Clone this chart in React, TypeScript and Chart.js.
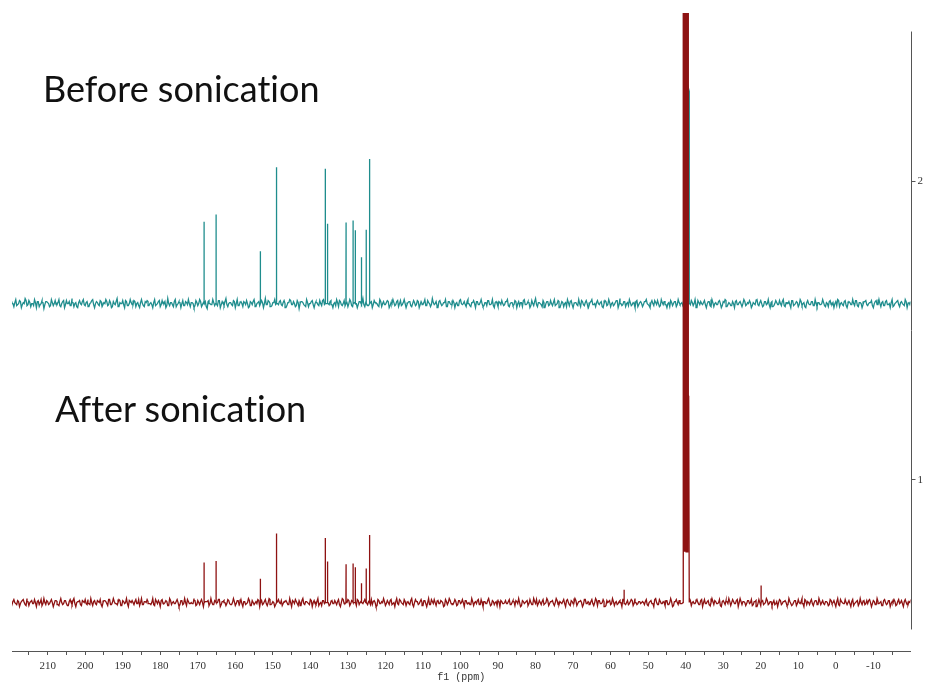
import React, { useEffect, useRef } from "react";
import { Chart, registerables } from "chart.js";

Chart.register(...registerables);

// 13C NMR spectra (ppm) of the same sample before and after sonication.
const PEAK_PPM = [168.3, 165.1, 153.3, 149.0, 136.0, 135.4, 130.5, 128.6, 128.0, 126.3, 125.1, 124.2];
const BEFORE_PEAK_HEIGHTS = [0.274, 0.298, 0.175, 0.456, 0.451, 0.267, 0.271, 0.278, 0.245, 0.155, 0.247, 0.484];
const AFTER_PEAK_HEIGHTS = [0.134, 0.139, 0.08, 0.231, 0.216, 0.137, 0.128, 0.131, 0.118, 0.065, 0.114, 0.226];

const AFTER_MINOR_PPM = [56.4, 19.9];
const AFTER_MINOR_HEIGHTS = [0.043, 0.057];

// DMSO-d6 solvent multiplet around 39.5 ppm
const BEFORE_SOLVENT_PPM = [40.5, 40.3, 40.15, 39.95, 39.8, 39.6, 39.45, 39.25, 39.05, 38.9];
const BEFORE_SOLVENT_HEIGHTS = [0, 0.72, 0.2, 0.72, 0.2, 0.72, 0.2, 0.72, 0.71, 0];
const AFTER_SOLVENT_PPM = [40.65, 40.5, 40.35, 40.2, 40.05, 39.9, 39.75, 39.6, 39.45, 39.3, 39.2, 39.05];
const AFTER_SOLVENT_HEIGHTS = [0, 2.3, 0.17, 2.3, 0.17, 2.3, 0.17, 2.3, 0.17, 2.3, 0.69, 0];

const BEFORE_BASELINE = 1.59;
const AFTER_BASELINE = 0.59;

// baseline noise: main samples every 0.5 ppm from 219.5 ppm downwards,
// plus the in-between samples a quarter ppm further on
const NOISE_START_PPM = 219.5;
const NOISE_STEP_PPM = 0.5;
const NOISE_UNIT = 0.0034;

const BEFORE_NOISE = [
  2, -3, 4, -1, 3, -4, 1, 5, -2, 3, -3, 0, 4, -4, 2, -1, 3, -5, 2, 1, -3, 4, -2, 3,
  -1, 4, -3, 2, -4, 3, 0, -2, 5, -3, 1, -4, 3, -1, 4, -2, 2, -3, 1, 4, -4, 2, -1, 3,
  -3, 1, 4, -2, 3, -4, 2, -1, 5, -3, 0, 3, -4, 2, -2, 4, -1, 3, -3, 1, -4, 4, -2, 2,
  3, -2, 1, -4, 4, -1, 2, -3, 3, 0, -4, 5, -2, 1, -3, 4, -1, 2, -4, 3, -2, 1, 4, -3,
  1, -4, 3, -2, 4, -3, 1, 2, -5, 3, -1, 4, -2, 0, 3, -4, 2, -2, 5, -3, 1, -1, 3, -4,
  4, -2, 2, -3, 1, 3, -4, 2, -1, 4, -3, 1, -2, 3, -4, 5, -1, 2, -3, 1, 4, -2, -1, 3,
  -2, 3, -4, 1, 4, -1, 2, -3, 3, -5, 2, 1, -2, 4, -3, 0, 3, -4, 2, -1, 3, -2, 4, -3,
  2, -1, 3, -4, 1, 4, -3, 2, -2, 3, -1, -3, 4, -2, 1, 3, -4, 2, -1, 5, -3, 2, -2, 1,
  -4, 3, 1, -2, 4, -3, 2, -1, 3, -4, 1, 4, -2, 2, -3, 3, -1, 4, -4, 1, 2, -3, 3, -2,
  3, -4, 2, -1, 4, -2, 1, -3, 5, -1, 2, -4, 3, -2, 1, 4, -3, 2, -1, 3, -4, 1, -2, 4,
  -1, 2, -3, 4, -2, 1, 3, -4, 2, -1, 4, -3, 1, -2, 3, -1, 4, -4, 2, -3, 1, 3, -2, 2,
  4, -3, 1, -2, 3, -4, 2, 1, -3, 4, -1, 2, -4, 3, -2, 5, -3, 1, -1, 3, -4, 2, -2, 3,
  -2, 4, -1, 3, -4, 2, -3, 1, 4, -2, 3, -4, 1, -1, 4, -3, 2, -2, 3, -4, 1, 4, -1, -3,
  3, -1, 2, -4, 3, -2, 4, -3, 1, -1, 3, -4, 5, -2, 2, -3, 1, 4, -2, 1, -4, 3, -1, 2,
  -3, 2, 4, -1, -4, 3, -2, 1, 3, -3, 4, -1, 2, -4, 1, 3, -2, 2, -3, 4, -1, 1, -4, 3,
  1, -3, 3, -2, 4, -4, 1, 2, -1, 3, -4, 2, -2, 4, -3, 1, -1, 3, -4, 2, 4, -3, 1, -2,
  2, -4, 3, -1, 2, -3, 4, -2, 1, 3, -4, 1, -1, 4, -2, 3, -3, 2, -1, 4, -4, 2, -2, 3,
  -1, 3, -2, 4, -3, 1, 2, -4, 3, -1, 2, -3, 4, -2, 1, -4, 3, -1, 2, -2, 4, -3, 1, -1,
  4, -2, 1, -3, 3, -1, -4, 2, 4, -3, 1, -2, 3, -4, 2, -1, 4, -2, 3, -3, 1, -4, 2, 3,
  -2, 1, 3, -4, 2, -1, 4, -3, 2, -2, 3, -1, -4, 4, -2, 1, 3, -3, 2, -1, 4, -4, 1, 2,
];

const BEFORE_NOISE_MID = [
  0, 1, -2, 0, 2, -1, 0, 3, -1, 1, 0, -2, 1, 2, -3, 0, 1, -1, 2, 0, -2, 1, 0, -1,
  1, -2, 0, 3, -1, 0, 2, -2, 1, 0, -3, 1, 0, 2, -1, 1, -2, 0, 3, -1, 0, 1, -2, 2,
  -1, 0, 2, -1, 1, -3, 0, 2, -2, 1, 0, -1, 3, -2, 0, 1, -1, 2, 0, -2, 1, 0, -3, 1,
  2, 0, -1, 1, -2, 0, 3, -1, 0, 2, -2, 0, 1, -1, 2, -3, 0, 1, 0, -2, 2, -1, 0, 1,
  0, -2, 1, 0, 2, -1, 1, -3, 2, 0, -1, 1, 0, -2, 3, -1, 0, 2, -1, 0, 1, -2, 2, 0,
  -2, 1, 0, 2, -1, 0, -3, 1, 2, -1, 0, 2, -2, 1, 0, -1, 3, 0, -2, 1, -1, 0, 2, -1,
  1, 0, -2, 1, 3, -1, 0, -2, 1, 0, 2, -1, -3, 1, 0, 2, -1, 0, 1, -2, 0, 3, -1, 0,
  0, 2, -1, 0, -2, 1, 3, -1, 0, -2, 1, 0, 2, -3, 1, 0, -1, 2, 0, -1, 1, -2, 0, 2,
  -1, 1, 0, -3, 2, 0, -1, 1, 2, -2, 0, 1, -1, 3, 0, -2, 1, 0, -1, 2, -2, 0, 1, -1,
  2, -1, 0, 1, -2, 3, 0, -1, 1, 0, -2, 2, 0, -1, 1, -3, 2, 0, -1, 1, 0, -2, 3, 0,
  0, -1, 2, 0, -3, 1, 0, 2, -1, 1, 0, -2, 1, 3, -1, 0, -2, 1, 0, 2, -1, 0, -1, 2,
  -2, 0, 1, -1, 2, 0, -2, 1, 3, -1, 0, 1, -2, 0, 2, -1, 1, 0, -3, 1, 0, 2, -1, 0,
  1, -2, 0, 2, -1, 1, 0, -3, 1, 2, -1, 0, 1, -2, 0, 3, -1, 1, 0, -2, 2, -1, 0, 1,
  0, 1, -3, 0, 2, -1, 1, 0, -2, 1, 3, -1, 0, -1, 2, 0, -2, 1, -1, 0, 2, -3, 1, 0,
  -1, 2, 0, -2, 1, 0, 3, -1, 0, -2, 1, 2, -1, 0, -3, 1, 0, 2, -1, 1, 0, -2, 1, 2,
  2, -1, 1, 0, -2, 3, -1, 0, 1, -1, 0, 2, -3, 1, 0, -1, 2, 0, -2, 1, 3, -1, 0, -2,
  0, 2, -1, 1, -3, 0, 2, -1, 0, 1, -2, 0, 3, -1, 1, 0, -2, 2, 0, -1, 1, -3, 0, 1,
  -1, 0, 2, -2, 1, 0, -1, 3, -2, 0, 1, -1, 2, 0, -3, 1, 0, -1, 2, -2, 0, 1, -1, 0,
  1, -3, 0, 2, -1, 1, 0, -2, 3, 0, -1, 2, -2, 0, 1, -1, 0, 3, -2, 1, 0, -1, 2, -1,
  0, 1, -2, 0, 3, -1, 0, 1, -2, 2, -1, 0, 1, -3, 0, 2, -1, 1, 0, -2, 2, 0, -1, 1,
];

const AFTER_NOISE = [
  -2, 3, -1, 2, -4, 1, 3, -2, 4, -3, 1, -1, 3, -4, 2, 0, -3, 4, -2, 1, -1, 3, -4, 2,
  1, -3, 4, -2, 2, -1, -3, 3, -2, 4, -4, 1, 2, -3, 1, 3, -2, -1, 4, -3, 2, -2, 1, 3,
  -4, 2, 1, -3, 3, -2, 4, -1, -2, 3, -3, 2, -1, 4, -4, 1, 2, -2, 3, -1, -3, 4, -2, 1,
  3, -1, -2, 4, -3, 1, 2, -4, 3, -1, 2, -3, 4, -2, 1, -1, 3, -4, 2, -2, 4, -3, 1, -1,
  -1, 4, -3, 2, -2, 3, -4, 1, 1, -3, 4, -2, 2, -1, 3, -4, 1, 2, -3, 3, -1, -2, 4, -3,
  2, -2, 3, -4, 1, -1, 4, -3, 2, -2, 1, 3, -4, 2, -1, 3, -3, 4, -2, 1, -4, 2, 3, -1,
  -3, 1, 2, -2, 4, -4, 1, 3, -1, 2, -3, 4, -2, 1, -1, 3, -4, 2, -2, 4, -1, -3, 2, 1,
  4, -3, 1, -1, 2, -2, 3, -4, 4, -1, -2, 3, -3, 2, 1, -4, 3, -2, 2, -1, 3, -3, 1, -2,
  -2, 2, -4, 3, -1, 1, 4, -3, 2, -2, 3, -1, -4, 4, -2, 2, -1, 3, -3, 1, -2, 4, -4, 3,
  1, -1, 3, -3, 2, -4, 4, -2, 1, 3, -3, 2, -1, 1, -4, 3, -2, 4, -1, -2, 3, -3, 2, -1,
  3, -4, 2, -1, -2, 4, -3, 1, 2, -2, 3, -4, 1, -1, 4, -3, 2, -2, 1, 3, -4, 1, -1, 2,
  -1, 3, -2, 2, -3, 1, 4, -4, 2, -1, 1, -3, 3, -2, 4, -1, -3, 2, -2, 3, -1, 4, -3, 1,
  2, -3, 4, -2, 1, -1, 3, -4, 3, -2, 2, -1, 4, -3, 1, 2, -4, 3, -1, 1, -2, 3, -3, 4,
  -3, 2, -1, 3, -4, 2, 1, -2, 4, -3, 1, -1, 2, -4, 3, -2, 2, -1, 3, -3, 4, -2, 1, -1,
  1, -2, 3, -3, 2, -1, -4, 4, -2, 3, -1, 1, -3, 2, -2, 4, -4, 1, 3, -2, 2, -1, -3, 3,
  -2, 4, -3, 1, -1, 3, -2, 2, -4, 3, -1, 2, -3, 4, -2, 1, -1, 3, -4, 2, -2, 1, 4, -3,
  3, -1, 2, -4, 4, -2, 1, -3, 2, -1, 3, -2, 1, -4, 3, -3, 2, -1, 4, -2, 1, -3, 2, -1,
  -4, 3, -2, 1, 2, -3, 4, -1, -2, 2, -3, 3, -1, 4, -4, 2, 1, -2, 3, -3, 2, -1, 4, -2,
  2, -2, 1, -3, 3, -1, 2, -4, 4, -3, 1, -1, 3, -2, 2, -4, 3, -1, 1, -3, 4, -2, 2, -1,
  -1, 3, -4, 2, -2, 4, -1, 1, -3, 3, -2, 2, -4, 1, 3, -3, 1, -1, 2, -4, 3, -2, 1, 3,
];

const AFTER_NOISE_MID = [
  1, 0, -2, 1, -1, 2, 0, -3, 1, 0, 2, -1, 0, 1, -2, 3, -1, 0, 2, -2, 1, 0, -1, 2,
  -2, 1, 0, -1, 2, -3, 1, 0, 2, -1, 0, 1, -2, 2, 0, -1, 3, -2, 0, 1, -1, 2, 0, -2,
  0, 2, -1, 3, -2, 0, 1, -1, 0, 2, -3, 1, 0, -1, 2, 0, -2, 1, -1, 3, 0, -2, 1, 0,
  1, -1, 0, -2, 3, -1, 0, 2, -1, 0, 1, -3, 2, 0, -1, 1, 0, -2, 2, -1, 0, 3, -1, 0,
  -1, 2, -2, 0, 1, 0, -3, 1, 2, -1, 0, -2, 1, 0, 3, -2, 1, 0, -1, 2, -2, 0, 1, -1,
  2, 0, -1, 1, -2, 0, 2, -3, 0, 1, -1, 2, 0, -2, 1, -1, 0, 3, -1, 0, -2, 1, 0, 2,
  -1, 1, 0, -2, 0, 2, -1, 1, -3, 0, 2, -1, 1, 0, -2, 2, 0, -1, 1, -3, 0, 2, -1, 0,
  0, -2, 2, -1, 0, 1, -2, 0, 3, -1, 0, 2, -1, 1, 0, -3, 2, 0, -1, 1, 0, -2, 1, 3,
  1, 0, -3, 2, -1, 0, 1, -1, 0, 2, -2, 0, 1, -1, 3, 0, -2, 1, 0, -1, 2, -2, 0, 1,
  -2, 1, 0, 2, -1, 0, -2, 3, -1, 0, 1, -1, 2, 0, -3, 1, 0, 2, -1, 0, 1, -2, 2, 0,
  0, 2, -1, 0, -2, 1, 0, -1, 3, -2, 0, 1, -1, 2, 0, -2, 1, 0, -3, 1, 2, -1, 0, -1,
  1, -2, 0, 1, 2, -1, 0, -3, 1, 0, 2, -1, 0, -2, 1, 3, -1, 0, 1, -2, 0, 2, -1, 1,
  -1, 0, 2, -2, 0, 1, -1, 2, 0, -3, 1, 0, 2, -1, 1, 0, -2, 3, -1, 0, 1, -1, 0, 2,
  2, -1, 0, 1, -3, 0, 2, -1, 1, 0, -2, 1, 0, 3, -1, 0, -2, 1, 2, -1, 0, -1, 1, 0,
  0, 1, -2, 0, 2, -1, 3, 0, -2, 1, -1, 0, 2, -2, 0, 1, -3, 1, 0, 2, -1, 0, 1, -2,
  -2, 2, 0, -1, 1, 0, -2, 3, 0, -1, 1, -2, 0, 1, 2, -1, 0, -3, 1, 0, 2, -1, 1, 0,
  1, -1, 3, 0, -2, 1, 0, -1, 2, 0, -3, 1, 2, -1, 0, 1, -2, 0, 2, -1, 1, 0, -2, 1,
  0, 2, -1, 1, 0, -2, 1, -3, 0, 2, -1, 0, 1, -1, 3, -2, 0, 1, -1, 0, 2, -2, 1, 0,
  -1, 1, 0, -2, 2, 0, -1, 1, -2, 3, 0, -1, 0, 2, -1, 1, -3, 0, 2, -1, 0, 1, -2, 2,
  2, 0, -1, 1, -2, 1, 0, -3, 2, 0, -1, 2, -1, 0, 1, -2, 3, 0, -1, 1, 0, -2, 0, 1,
];

// axis settings
const X_MIN = -19.9;
const X_MAX = 219.5;
const X_TICK_STEP = 5;
const X_LABEL_STEP = 10;
const Y_MIN = 0.428;
const Y_MAX = 2.562;
const Y_AXIS_LINE = [0.5, 2.5];

const BEFORE_COLOR = "#1f8d8d";
const AFTER_COLOR = "#8e1212";
const AXIS_COLOR = "#555555";

type Pt = { x: number; y: number };

function buildSpectrum(
  noise: number[],
  noiseMid: number[],
  baseline: number,
  peakPpm: number[],
  peakHeights: number[],
  solventPpm: number[],
  solventHeights: number[]
): Pt[] {
  const pts: Pt[] = [];
  const sLo = Math.min(...solventPpm);
  const sHi = Math.max(...solventPpm);
  const addNoise = (x: number, n: number) => {
    if (x >= sLo && x <= sHi) return;
    if (peakPpm.some((p) => Math.abs(p - x) < 0.1)) return;
    pts.push({ x, y: baseline + n * NOISE_UNIT });
  };
  noise.forEach((n, i) => addNoise(NOISE_START_PPM - i * NOISE_STEP_PPM, n));
  noiseMid.forEach((n, i) =>
    addNoise(NOISE_START_PPM - (i + 0.5) * NOISE_STEP_PPM, n)
  );
  peakPpm.forEach((p, i) => {
    pts.push({ x: p + 0.03, y: baseline });
    pts.push({ x: p, y: baseline + peakHeights[i] });
    pts.push({ x: p - 0.03, y: baseline });
  });
  solventPpm.forEach((p, i) => pts.push({ x: p, y: baseline + solventHeights[i] }));
  pts.sort((a, b) => a.x - b.x);
  return pts;
}

const rightAxisLine = {
  id: "rightAxisLine",
  afterDraw(chart: any) {
    const y = chart.scales.y;
    const ctx = chart.ctx;
    const x = Math.round(y.left) + 0.5;
    ctx.save();
    ctx.strokeStyle = AXIS_COLOR;
    ctx.lineWidth = 1;
    ctx.beginPath();
    ctx.moveTo(x, y.getPixelForValue(Y_AXIS_LINE[1]));
    ctx.lineTo(x, y.getPixelForValue(Y_AXIS_LINE[0]));
    ctx.stroke();
    ctx.restore();
  },
};

export default function App() {
  const canvasRef = useRef<HTMLCanvasElement | null>(null);

  useEffect(() => {
    if (!canvasRef.current) return;
    const before = buildSpectrum(
      BEFORE_NOISE,
      BEFORE_NOISE_MID,
      BEFORE_BASELINE,
      PEAK_PPM,
      BEFORE_PEAK_HEIGHTS,
      BEFORE_SOLVENT_PPM,
      BEFORE_SOLVENT_HEIGHTS
    );
    const after = buildSpectrum(
      AFTER_NOISE,
      AFTER_NOISE_MID,
      AFTER_BASELINE,
      [...PEAK_PPM, ...AFTER_MINOR_PPM],
      [...AFTER_PEAK_HEIGHTS, ...AFTER_MINOR_HEIGHTS],
      AFTER_SOLVENT_PPM,
      AFTER_SOLVENT_HEIGHTS
    );
    const tickFont = { family: "'Liberation Serif', serif", size: 11, lineHeight: 1 };
    const chart = new Chart(canvasRef.current, {
      type: "line",
      data: {
        datasets: [
          {
            label: "After sonication",
            data: after,
            borderColor: AFTER_COLOR,
            borderWidth: 1.3,
            pointRadius: 0,
            tension: 0,
          },
          {
            label: "Before sonication",
            data: before,
            borderColor: BEFORE_COLOR,
            borderWidth: 1.3,
            pointRadius: 0,
            tension: 0,
          },
        ],
      },
      options: {
        animation: false,
        responsive: true,
        maintainAspectRatio: false,
        events: [],
        layout: { padding: { top: 13, left: 12, right: 1, bottom: 4 } },
        plugins: { legend: { display: false }, tooltip: { enabled: false } },
        scales: {
          x: {
            type: "linear",
            reverse: true,
            min: X_MIN,
            max: X_MAX,
            border: { color: AXIS_COLOR, width: 1 },
            grid: { drawOnChartArea: false, tickLength: 4, color: AXIS_COLOR },
            ticks: {
              stepSize: X_TICK_STEP,
              includeBounds: false,
              autoSkip: false,
              maxRotation: 0,
              padding: 6,
              color: "#333",
              font: tickFont,
              callback: (v: any) => (Number(v) % X_LABEL_STEP === 0 ? String(v) : ""),
            },
            title: {
              display: true,
              text: "f1 (ppm)",
              color: "#333",
              font: { family: "'Liberation Mono', monospace", size: 10, lineHeight: 1 },
              padding: { top: -6, bottom: 0 },
            },
          },
          y: {
            type: "linear",
            position: "right",
            min: Y_MIN,
            max: Y_MAX,
            border: { display: false },
            grid: { drawOnChartArea: false, tickLength: 5, color: AXIS_COLOR },
            ticks: {
              stepSize: 1,
              includeBounds: false,
              padding: 2,
              color: "#333",
              font: tickFont,
            },
          },
        },
      },
      plugins: [rightAxisLine],
    });
    return () => chart.destroy();
  }, []);

  const labelStyle: React.CSSProperties = {
    position: "absolute",
    fontFamily: "Lato, 'Open Sans', sans-serif",
    fontSize: 36,
    lineHeight: 1,
    color: "#111",
    whiteSpace: "nowrap",
    fontVariantLigatures: "none",
  };

  return (
    <div
      style={{
        position: "fixed",
        left: 0,
        top: 0,
        width: 926,
        height: 686,
        background: "#ffffff",
      }}
    >
      <canvas ref={canvasRef} />
      <div style={{ ...labelStyle, left: 43, top: 70 }}>Before sonication</div>
      <div style={{ ...labelStyle, left: 55, top: 390 }}>After sonication</div>
    </div>
  );
}
